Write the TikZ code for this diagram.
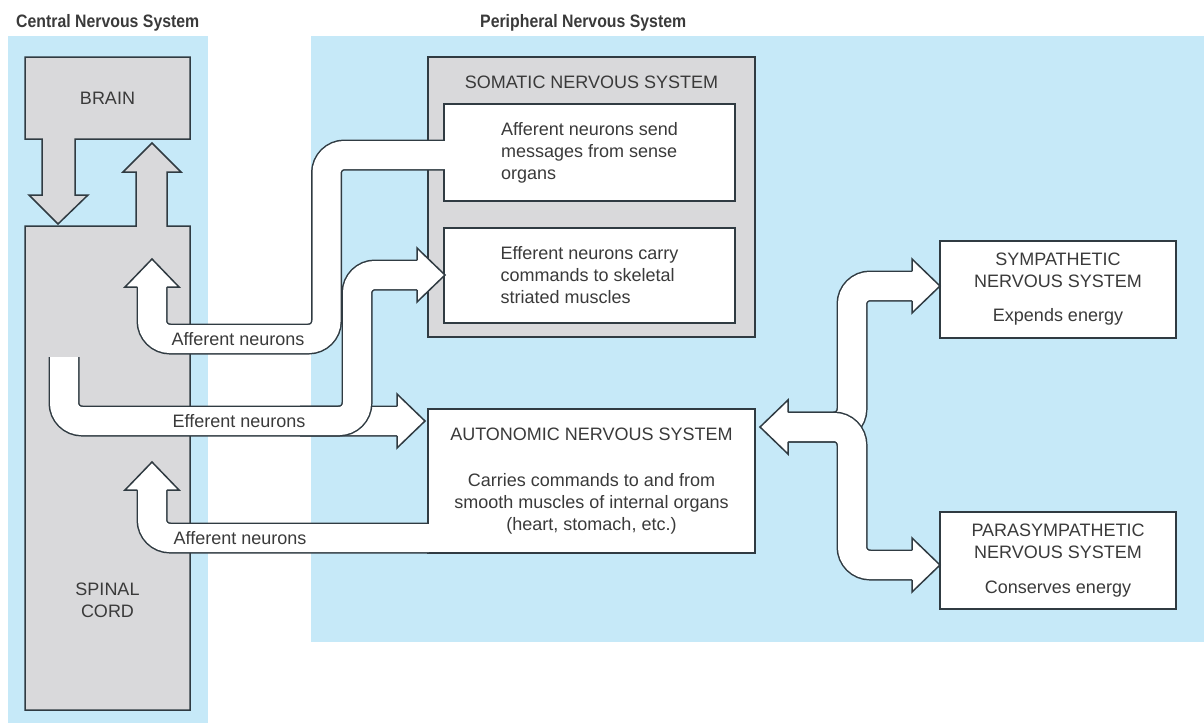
\documentclass[tikz,border=0pt]{standalone}
\usepackage{fontspec}
\setmainfont{Liberation Sans}
\newfontfamily\headfont{Liberation Sans}[FakeStretch=0.88]
\usepackage{tikz}
\usetikzlibrary{positioning}
\definecolor{nsblue}{HTML}{C6E9F8}
\definecolor{nsgray}{HTML}{D9D9DB}
\definecolor{nsline}{HTML}{303B42}
\definecolor{nstext}{HTML}{3A3A3A}
\tikzset{box/.style={draw=nsline, line width=1.5pt, fill=white, text=nstext, align=center, inner sep=0pt}}
\tikzset{tube/.style={draw=nsline, line width=1.5pt, double=white, double distance=28pt, rounded corners=18pt}}
\tikzset{organ/.style={draw=nsline, line width=1.5pt, fill=nsgray, line join=miter}}
\tikzset{tubelabel/.style={anchor=base, inner sep=0pt}}
\tikzset{head/.pic={\draw[draw=nsline, line width=1.5pt, fill=white, line join=miter]
    (0,-14.75) -- (0,-27) -- (28,0) -- (0,27) -- (0,14.75);}}

\begin{document}
\begin{tikzpicture}[x=1pt, y=-1pt, every node/.style={font=\fontsize{18}{22}\selectfont, text=nstext}]
    \useasboundingbox (0,0) rectangle (1204,723);
    % backgrounds
    \fill[nsblue] (8,36) rectangle (208,723);
    \fill[nsblue] (311,36) rectangle (1204,642);
    \node [anchor=base west, inner sep=0pt, font=\headfont\bfseries\fontsize{18}{22}\selectfont] (cnstitle) at (16,27) {Central Nervous System};
    \node [anchor=base west, inner sep=0pt, font=\headfont\bfseries\fontsize{18}{22}\selectfont] (pnstitle) at (480,27) {Peripheral Nervous System};
    %
    % central nervous system
    \draw [organ] (25,57) -- (190,57) -- (190,139) -- (75,139) -- (75,195) -- (88,195) -- (58,224)
        -- (29,195) -- (42,195) -- (42,139) -- (25,139) -- cycle;
    \draw [organ] (25,226) -- (136,226) -- (136,172) -- (123,172) -- (152,143) -- (181,172) -- (167,172)
        -- (167,226) -- (190,226) -- (190,710) -- (25,710) -- cycle;
    \node                [align=center]   (brain)    at (107.5,98)  {BRAIN};
    \node                [align=center]   (spinal)   at (107.5,600) {SPINAL\\CORD};
    %
    % peripheral nervous system
    \node [box, fill=nsgray, minimum width=327pt, minimum height=280pt] (somatic) at (591.5,197) {};
    \node [anchor=base]                   (somtitle) at (591.5,88)  {SOMATIC NERVOUS SYSTEM};
    \node [box, align=left, minimum width=291pt, minimum height=97pt]  (affbox)  at (589.5,152.5)
        {Afferent neurons send\\messages from sense\\organs};
    \node [box, align=left, minimum width=291pt, minimum height=95pt]  (effbox)  at (589.5,275.5)
        {Efferent neurons carry\\commands to skeletal\\striated muscles};
    \node [box, minimum width=327pt, minimum height=144pt] (autobox) at (591.5,481)
        {AUTONOMIC NERVOUS SYSTEM\\[24pt]Carries commands to and from\\smooth muscles of internal organs\\(heart, stomach, etc.)};
    \node [box, minimum width=236pt, minimum height=97pt]  (symbox)  at (1058,289.5)
        {SYMPATHETIC\\NERVOUS SYSTEM\\[12pt]Expends energy};
    \node [box, minimum width=236pt, minimum height=97pt]  (parabox) at (1058,560.5)
        {PARASYMPATHETIC\\NERVOUS SYSTEM\\[13pt]Conserves energy};
    %
    % neuron pathways
    \coordinate (affupA)  at (152,287);
    \coordinate (affupB)  at (152,490);
    \coordinate (effroot) at (64,357);
    \coordinate (effauto) at (397,421);
    \coordinate (effsom)  at (417,275);
    \coordinate (autoin)  at (788,427);
    \coordinate (symin)   at (912,286);
    \coordinate (parain)  at (912,565);
    %
    \draw [tube] ([xshift=1.5pt]affbox.west |- 0,155) -- (326.5,155) |- (152,339) -- (affupA);
    \draw [tube] ([xshift=1.5pt]autobox.west |- 0,538) -| (affupB);
    \draw [tube] (effroot) |- (effauto);
    \draw [tube] (300,421) -| (357,330) |- (effsom);
    \draw [tube] (autoin) -| (852,330) |- (symin);
    \draw [tube] (autoin) -| (852,500) |- (parain);
    %
    \pic [rotate=90]  at (affupA)  {head};
    \pic [rotate=90]  at (affupB)  {head};
    \pic              at (effauto) {head};
    \pic              at (effsom)  {head};
    \pic [rotate=180] at (autoin)  {head};
    \pic              at (symin)   {head};
    \pic              at (parain)  {head};
    %
    \node [tubelabel] (afflabA) at (238,345) {Afferent neurons};
    \node [tubelabel] (efflab)  at (239,427) {Efferent neurons};
    \node [tubelabel] (afflabB) at (240,544) {Afferent neurons};
\end{tikzpicture}
\end{document}
